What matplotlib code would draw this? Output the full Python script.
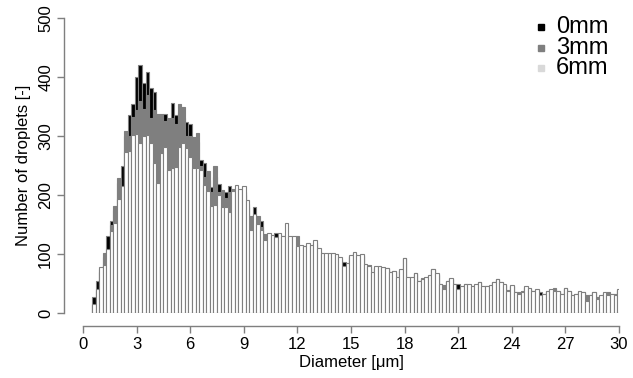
import numpy as np
import matplotlib.pyplot as plt
from matplotlib.lines import Line2D

# histogram breaks (um): 148 bins of 0.2 starting at 0.5
bin_start = 0.5
bin_width = 0.2

counts_0mm = [27, 55, 70, 95, 130, 156, 175, 220, 249, 300, 335, 354, 400, 420, 389, 409, 381, 375, 330, 320,
              338, 320, 356, 335, 340, 330, 324, 321, 290, 290, 260, 255, 225, 214, 230, 219, 200, 205, 215, 200,
              210, 205, 205, 185, 155, 180, 150, 156, 130, 125, 125, 136, 130, 130, 128, 125, 124, 110, 110, 110,
              115, 110, 118, 105, 98, 100, 98, 100, 96, 92, 86, 80, 95, 100, 95, 98, 80, 82, 68, 76,
              78, 77, 76, 69, 71, 60, 73, 93, 60, 60, 67, 54, 58, 60, 63, 74, 66, 49, 45, 54,
              58, 49, 49, 44, 49, 48, 44, 48, 52, 44, 45, 46, 52, 57, 52, 48, 39, 46, 35, 34,
              38, 44, 41, 37, 39, 35, 32, 37, 39, 40, 37, 32, 42, 37, 29, 32, 36, 35, 28, 31,
              35, 25, 29, 34, 33, 32, 31, 39]
counts_3mm = [14, 38, 74, 101, 104, 149, 181, 229, 210, 308, 300, 333, 344, 360, 345, 370, 330, 344, 338, 338,
              325, 330, 330, 320, 355, 350, 300, 300, 299, 305, 250, 230, 240, 205, 249, 205, 208, 195, 205, 211,
              205, 200, 200, 180, 164, 160, 164, 145, 134, 128, 125, 128, 130, 128, 125, 122, 128, 130, 112, 114,
              112, 108, 116, 104, 96, 96, 100, 98, 95, 90, 78, 82, 96, 101, 94, 96, 82, 76, 66, 77,
              77, 76, 75, 68, 70, 59, 72, 92, 59, 59, 66, 53, 60, 59, 62, 73, 65, 48, 47, 53,
              57, 48, 38, 43, 48, 47, 43, 47, 51, 43, 44, 45, 51, 56, 51, 47, 35, 45, 34, 36,
              33, 43, 40, 36, 38, 29, 31, 36, 38, 42, 36, 31, 41, 36, 28, 31, 35, 34, 30, 28,
              34, 27, 28, 33, 35, 31, 33, 38]
counts_6mm = [16, 40, 78, 81, 108, 139, 152, 194, 215, 273, 275, 302, 304, 288, 300, 302, 288, 254, 221, 271,
              282, 242, 245, 248, 282, 288, 279, 265, 246, 245, 242, 217, 206, 181, 183, 200, 179, 179, 172, 206,
              217, 210, 215, 192, 140, 168, 151, 141, 124, 135, 132, 128, 135, 130, 152, 130, 130, 114, 116, 113,
              119, 115, 123, 110, 101, 102, 102, 102, 100, 95, 80, 84, 98, 104, 98, 100, 83, 79, 70, 79,
              79, 78, 77, 70, 72, 61, 74, 94, 61, 61, 68, 55, 57, 61, 64, 75, 67, 50, 40, 55,
              59, 50, 40, 45, 50, 49, 45, 49, 53, 45, 46, 47, 53, 58, 53, 49, 37, 47, 36, 33,
              35, 45, 42, 38, 40, 31, 33, 38, 40, 38, 38, 33, 43, 38, 30, 33, 37, 36, 21, 30,
              36, 24, 30, 35, 30, 33, 30, 40]

series = [("0mm", counts_0mm, "black", "black"),
          ("3mm", counts_3mm, "#7f7f7f", "#7f7f7f"),
          ("6mm", counts_6mm, "white", "#d9d9d9")]

left_edges = bin_start + bin_width * np.arange(len(counts_6mm))

plt.rcParams['font.family'] = ['Liberation Sans', 'DejaVu Sans']

fig = plt.figure(figsize=(6.33, 3.78), dpi=100)
ax = fig.add_axes([83 / 633, 1 - 313 / 378, (619 - 83) / 633, (313 - 18) / 378])

axis_col = "#7f7f7f"
# overlapping histograms, later ones drawn on top
for name, vals, col, _ in series:
    ax.bar(left_edges, vals, width=bin_width, align='edge', color=col,
           edgecolor=axis_col, linewidth=0.8)

ax.set_xlim(0, 30)
ax.set_ylim(0, 500)

# R-style detached axes
for s in ['top', 'right']:
    ax.spines[s].set_visible(False)
ax.spines['left'].set_position(('outward', 13.5))
ax.spines['bottom'].set_position(('outward', 9.5))
ax.spines['left'].set_bounds(0, 500)
ax.spines['bottom'].set_bounds(0, 30)
for s in ['left', 'bottom']:
    ax.spines[s].set_color(axis_col)
    ax.spines[s].set_linewidth(1.0)

ax.set_xticks(np.arange(0, 31, 3))
ax.set_yticks(np.arange(0, 501, 100))
ax.tick_params(axis='both', colors=axis_col, labelcolor='black', length=5, width=1.0, labelsize=12)
plt.setp(ax.get_yticklabels(), rotation=90, va='center')
ax.tick_params(axis='y', pad=3)
ax.tick_params(axis='x', pad=3)

ax.set_xlabel("Diameter [\u03bcm]", fontsize=12, labelpad=2)
ax.set_ylabel("Number of droplets [-]", fontsize=12, labelpad=5)

# legend: small squares + large labels, top right
for i, (name, _, _, lc) in enumerate(series):
    yy = 1 - (27 + 20.5 * i) / 378
    fig.add_artist(Line2D([541 / 633], [yy], marker='s', markersize=5, linestyle='none',
                          markerfacecolor=lc, markeredgecolor=lc, transform=fig.transFigure))
    fig.text(556 / 633, yy, name, fontsize=17, va='center', ha='left')

fig.savefig("out.png", dpi=100)
